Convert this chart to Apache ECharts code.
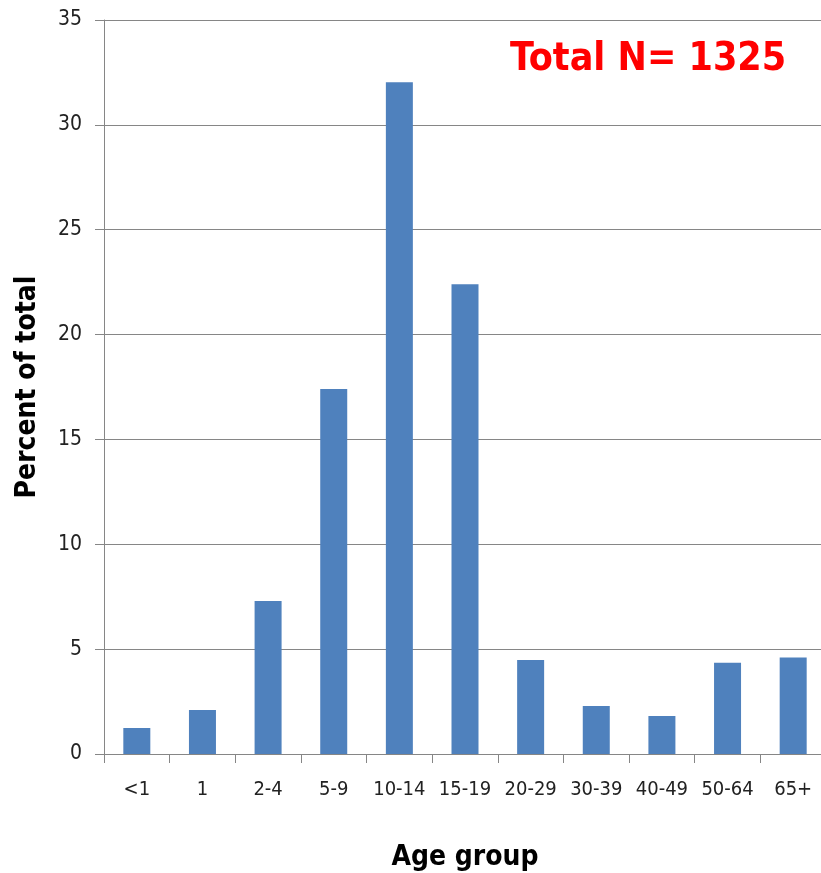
<!DOCTYPE html>
<html>
<head>
<meta charset="utf-8">
<script src="https://cdn.jsdelivr.net/npm/echarts@6/dist/echarts.min.js"></script>
<style>
  html, body { margin: 0; padding: 0; background: #fff; }
  #chart { width: 821px; height: 873px; }
</style>
</head>
<body>
<div id="chart"></div>
<script>
var ageGroups = ['<1', '1', '2-4', '5-9', '10-14', '15-19', '20-29', '30-39', '40-49', '50-64', '65+'];
var percentValues = [1.24, 2.1, 7.29, 17.4, 32.03, 22.4, 4.48, 2.29, 1.81, 4.35, 4.6];
var yTicks = { min: 0, max: 35, interval: 5 };
var totalLabel = 'Total N= 1325';

var font = "'DejaVu Sans Condensed', 'Liberation Sans', sans-serif";
var myChart = echarts.init(document.getElementById('chart'));
myChart.setOption({
  animation: false,
  grid: { left: 104, right: -5, top: 20, bottom: 119, containLabel: false, outerBoundsMode: 'none' },
  xAxis: {
    type: 'category',
    data: ageGroups,
    name: 'Age group',
    nameLocation: 'middle',
    nameGap: 90,
    nameTextStyle: { fontFamily: font, fontSize: 28, fontWeight: 'bold', color: '#000' },
    axisLine: { lineStyle: { color: '#868686' } },
    axisTick: { show: true, length: 9, alignWithLabel: false, lineStyle: { color: '#868686' } },
    axisLabel: { fontFamily: font, fontSize: 20, color: '#222', margin: 26, interval: 0 }
  },
  yAxis: {
    type: 'value',
    min: yTicks.min,
    max: yTicks.max,
    interval: yTicks.interval,
    name: 'Percent of total',
    nameLocation: 'middle',
    nameGap: 62,
    nameTextStyle: { fontFamily: font, fontSize: 28, fontWeight: 'bold', color: '#000' },
    axisLine: { show: true, lineStyle: { color: '#868686' } },
    axisTick: { show: true, length: 9, lineStyle: { color: '#868686' } },
    axisLabel: { fontFamily: font, fontSize: 21, color: '#222', margin: 22 },
    splitLine: { show: true, lineStyle: { color: '#868686', width: 1 } }
  },
  graphic: [{
    type: 'text',
    left: 510,
    top: 40,
    style: { text: totalLabel, fontFamily: font, fontSize: 39, fontWeight: 'bold', fill: '#ff0000' }
  }],
  series: [{
    type: 'bar',
    data: percentValues,
    barWidth: 27,
    itemStyle: { color: '#4f81bd' }
  }]
});
</script>
</body>
</html>
